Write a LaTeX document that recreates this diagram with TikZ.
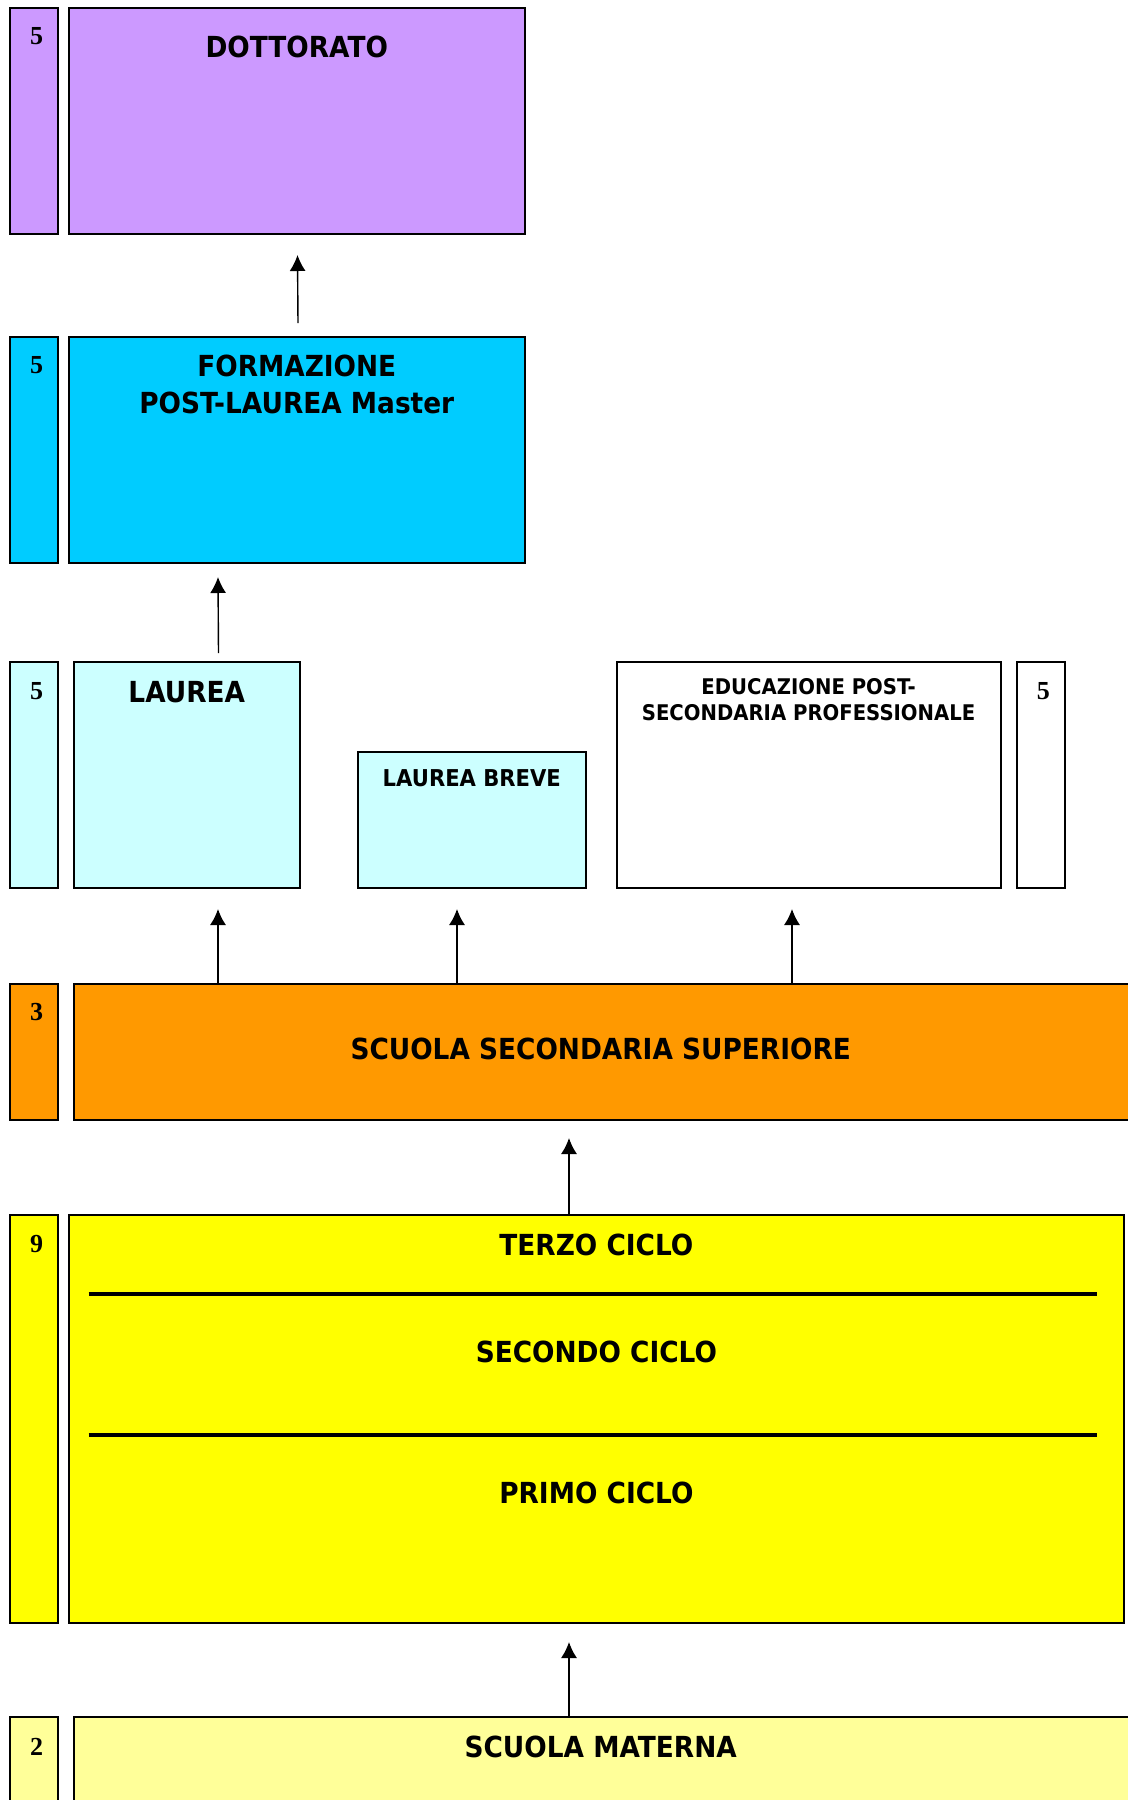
\documentclass[tikz,border=0pt]{standalone}
\usepackage{fontspec}
\setmainfont{Liberation Serif}
\newfontfamily\lab{DejaVu Sans}[FakeStretch=0.91]
\usetikzlibrary{arrows.meta,fit}
\definecolor{cpurple}{HTML}{CC99FF}
\definecolor{ccyan}{HTML}{00CCFF}
\definecolor{clcyan}{HTML}{CCFFFF}
\definecolor{corange}{HTML}{FF9900}
\definecolor{cyellow}{HTML}{FFFF00}
\definecolor{clyellow}{HTML}{FFFF99}
\begin{document}
\begin{tikzpicture}[x=0.5pt,y=-0.5pt,
  box/.style={draw=black, line width=1pt, inner sep=0pt},
  big/.style={font=\lab\bfseries\fontsize{14.5}{17}\selectfont, anchor=base, inner sep=0pt},
  small/.style={font=\lab\bfseries\fontsize{10.8}{13}\selectfont, anchor=base, inner sep=0pt},
  digit/.style={font=\bfseries\fontsize{13}{15}\selectfont, anchor=base, inner sep=0pt},
  arr/.style={line width=0.7pt, -{Latex[length=8pt,width=8pt]}},
  sep/.style={line width=1.6pt}]
\clip (0,0) rectangle (1128,1800);
\fill[white] (0,0) rectangle (1128,1800);
% DOTTORATO row
\node[box, fill=cpurple, fit={(9.5,8) (57.5,234)}] (n1) {};
\node[box, fill=cpurple, fit={(69,8) (524.5,234)}] (dott) {};
\node[digit] (d1) at (36.7,44.3) {5};
\node[big] (tdott) at (296.8,57) {DOTTORATO};
% FORMAZIONE row
\node[box, fill=ccyan, fit={(9.5,337) (57.5,563)}] (n2) {};
\node[box, fill=ccyan, fit={(69,337) (524.5,563)}] (form) {};
\node[digit] (d2) at (36.7,373.5) {5};
\node[big] (tform1) at (296.8,376) {FORMAZIONE};
\node[big] (tform2) at (296.8,413) {POST-LAUREA Master};
% LAUREA row
\node[box, fill=clcyan, fit={(9.5,662) (57.5,888)}] (n3) {};
\node[box, fill=clcyan, fit={(73.5,662) (300,888)}] (laurea) {};
\node[digit] (d3) at (36.7,699) {5};
\node[big] (tlau) at (186.8,702) {LAUREA};
\node[box, fill=clcyan, fit={(358,752) (585.6,888)}] (breve) {};
\node[small, font=\lab\bfseries\fontsize{11.6}{14}\selectfont] (tbreve) at (471.8,786.5) {LAUREA BREVE};
\node[box, fill=white, fit={(616.5,662) (1000.7,888)}] (edu) {};
\node[small] (tedu1) at (808.6,694) {EDUCAZIONE POST-};
\node[small] (tedu2) at (808.6,720) {SECONDARIA PROFESSIONALE};
\node[box, fill=white, fit={(1016.5,662) (1064.7,888)}] (n4) {};
\node[digit] (d4) at (1043.3,699) {5};
% SCUOLA SECONDARIA SUPERIORE
\node[box, fill=corange, fit={(9.5,984) (57.5,1120)}] (n5) {};
\node[box, fill=corange, fit={(73.5,984) (1140,1120)}] (ssup) {};
\node[digit] (d5) at (36.7,1020.5) {3};
\node[big] (tssup) at (600.7,1059) {SCUOLA SECONDARIA SUPERIORE};
% yellow block
\node[box, fill=cyellow, fit={(9.5,1215) (57.5,1623)}] (n6) {};
\node[box, fill=cyellow, fit={(69,1215) (1123.7,1623)}] (cicli) {};
\node[digit] (d6) at (36.7,1252.5) {9};
\node[big] (tterzo) at (596.4,1255) {TERZO CICLO};
\node[big] (tsec) at (596.4,1362) {SECONDO CICLO};
\node[big] (tprimo) at (596.4,1503) {PRIMO CICLO};
\draw[sep] (88.5,1294) -- (1097,1294);
\draw[sep] (88.5,1435) -- (1097,1435);
% SCUOLA MATERNA
\node[box, fill=clyellow, fit={(9.5,1717) (57.5,1830)}] (n7) {};
\node[box, fill=clyellow, fit={(73.5,1717) (1140,1830)}] (mat) {};
\node[digit] (d7) at (36.7,1755.5) {2};
\node[big] (tmat) at (600.7,1757) {SCUOLA MATERNA};
% connectors
\coordinate (a1s) at (298,323);
\coordinate (a1e) at (297.5,255);
\draw[arr] (a1s) -- (a1e);
\coordinate (a2s) at (218.5,653);
\coordinate (a2e) at (218,577);
\draw[arr] (a2s) -- (a2e);
\coordinate (a3e) at (218,909);
\draw[arr] (ssup.north -| a3e) -- (a3e);
\coordinate (a4e) at (457,909);
\draw[arr] (ssup.north -| a4e) -- (a4e);
\coordinate (a5e) at (792,909);
\draw[arr] (ssup.north -| a5e) -- (a5e);
\coordinate (a6e) at (569,1138);
\draw[arr] (cicli.north -| a6e) -- (a6e);
\coordinate (a7e) at (569,1642);
\draw[arr] (mat.north -| a7e) -- (a7e);
\end{tikzpicture}
\end{document}
